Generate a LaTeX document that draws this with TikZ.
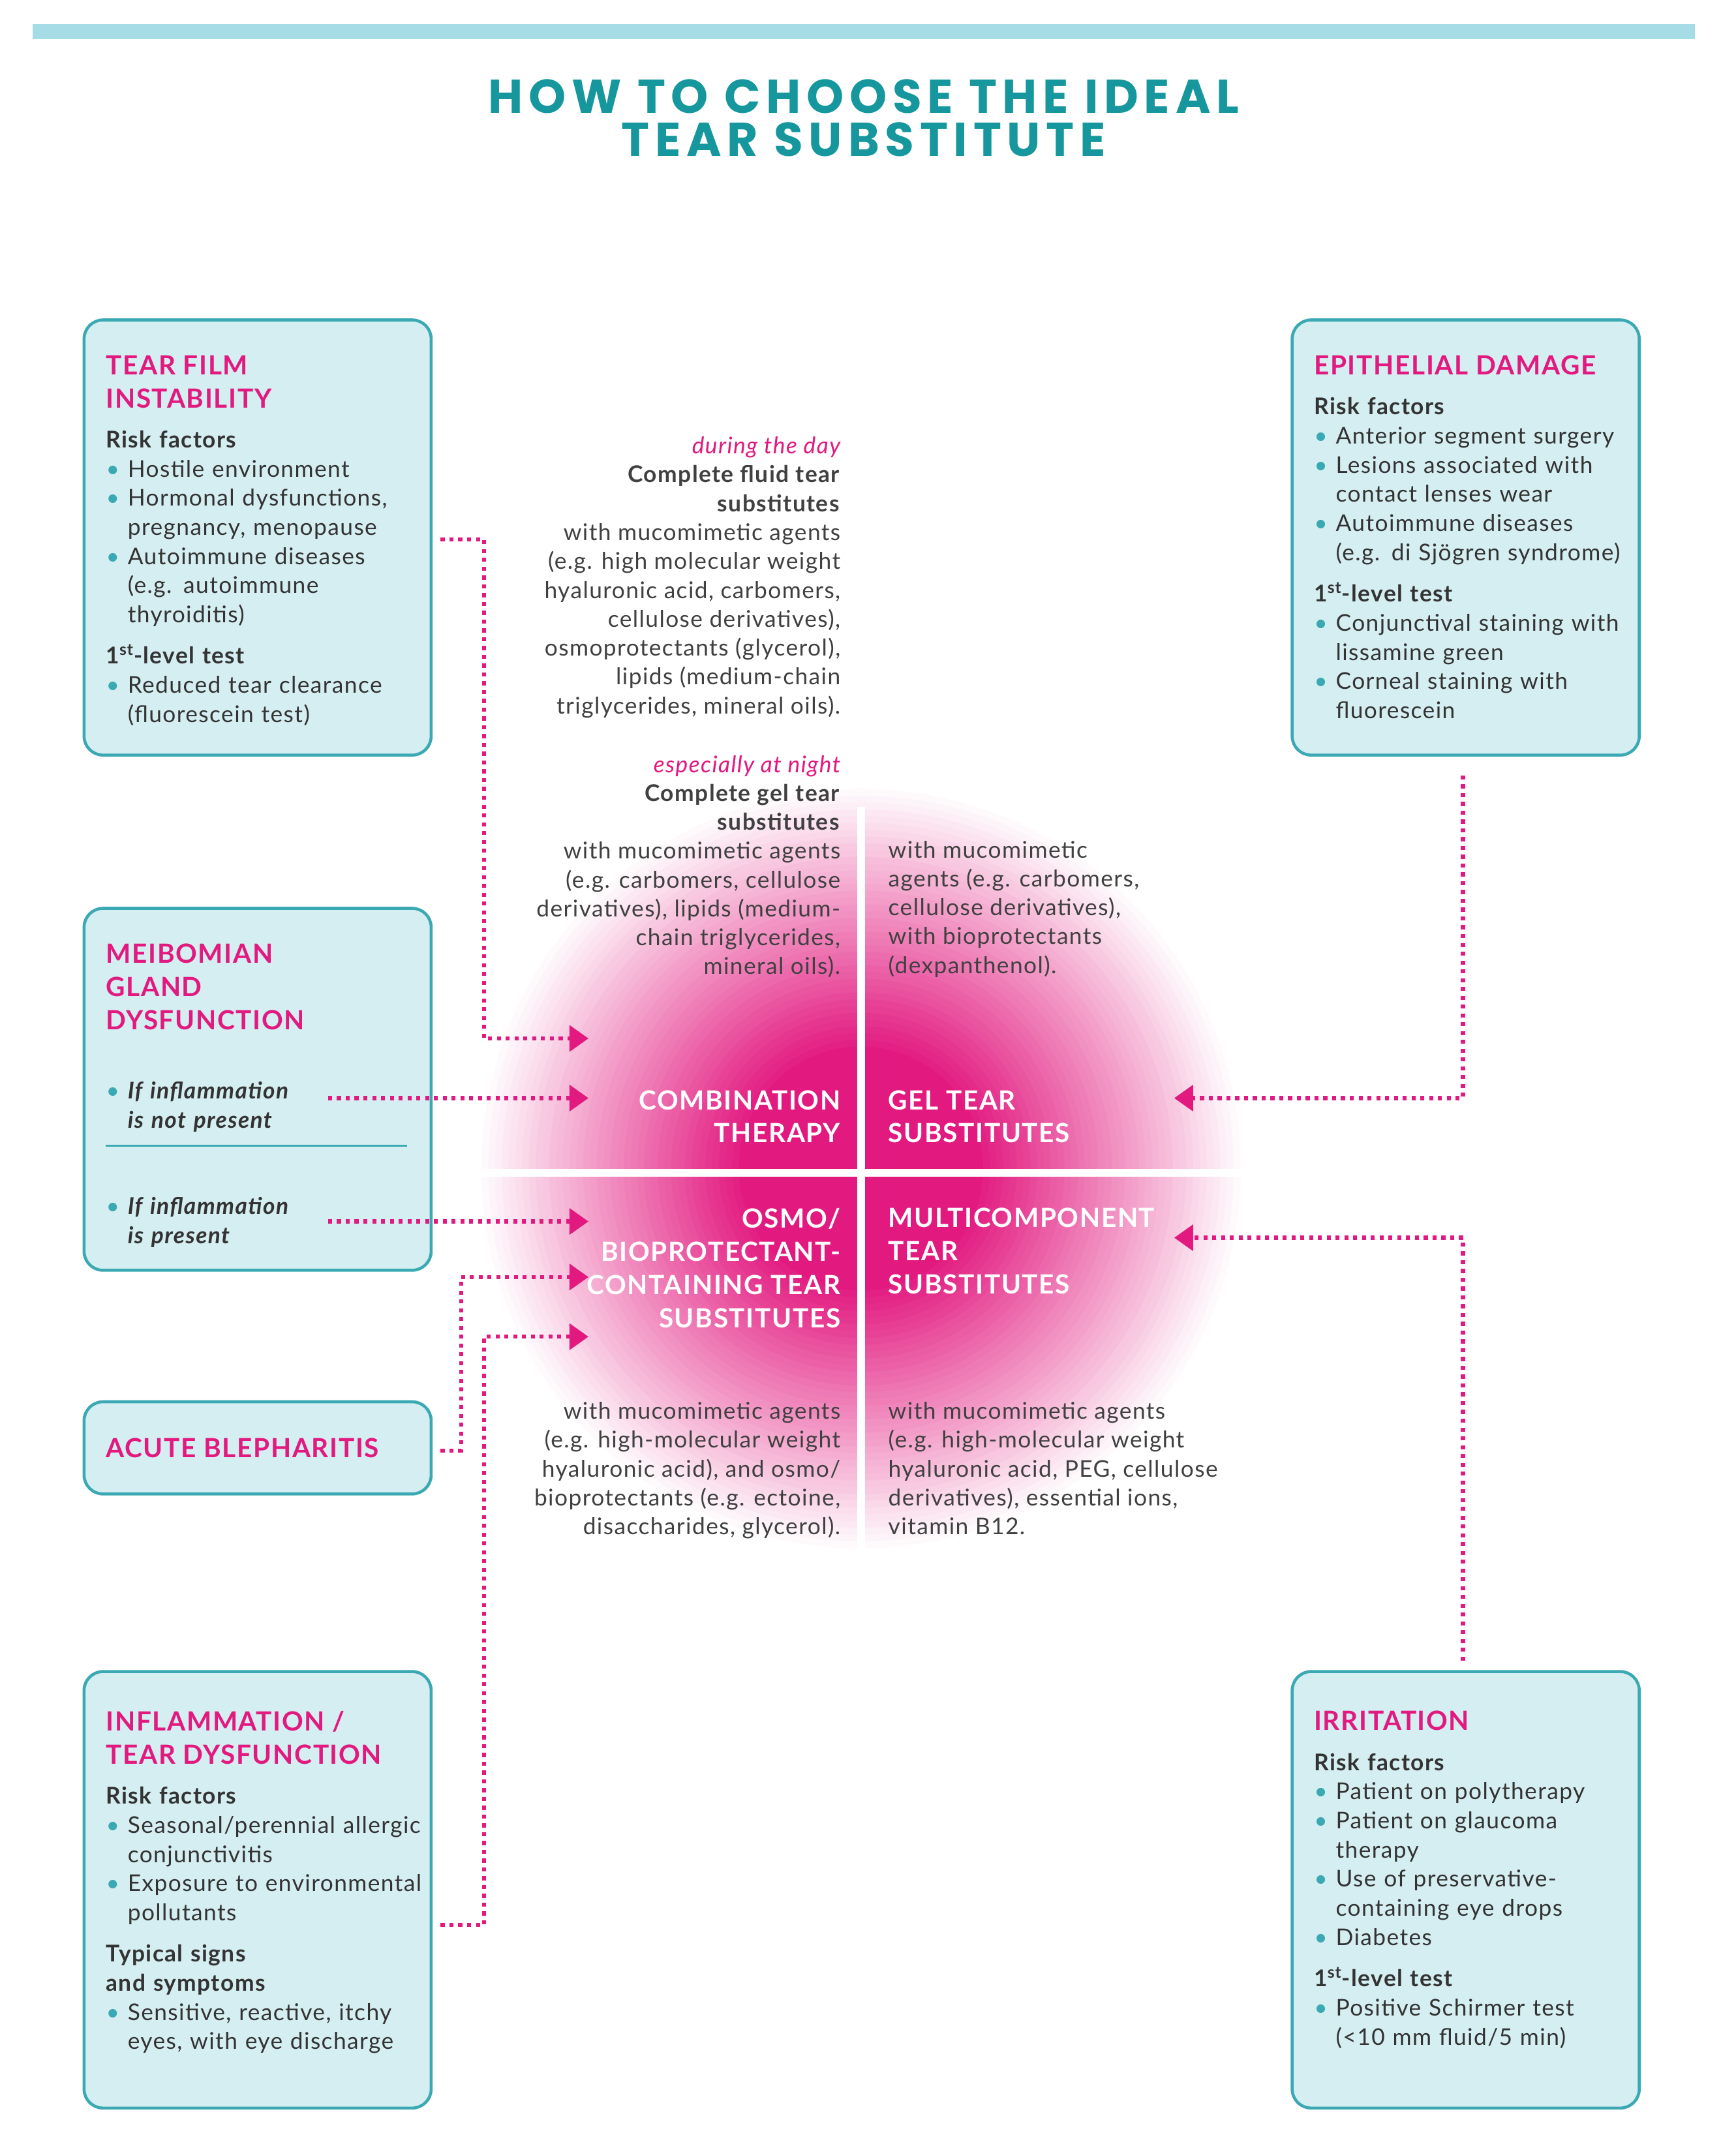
\documentclass[tikz,border=0pt]{standalone}
\usepackage{fontspec}
\setmainfont[LetterSpace=4]{Lato}
\newfontfamily\titlefont[LetterSpace=12]{Poppins}
\usetikzlibrary{arrows.meta}
\definecolor{tealc}{HTML}{3BA9B3}
\definecolor{boxfill}{HTML}{D5EEF1}
\definecolor{pinkc}{HTML}{E2197F}
\definecolor{titlec}{HTML}{16979D}
\definecolor{barc}{HTML}{A6DCE5}
\newcommand\bul[1]{\par\hangindent=16pt\hangafter=1\noindent\hbox to 16pt{\textcolor{tealc}{\textbullet}\hfil}#1}
\newcommand\hd[1]{\par\vspace{9pt}\noindent\textbf{#1}}
\newcommand\ttl[1]{{\fontsize{19.5}{24.5}\selectfont\bfseries\color{pinkc}#1\par}\vspace{8pt}}
\tikzset{
 box/.style={draw=tealc, line width=2.2pt, fill=boxfill, rounded corners=14pt},
 btxt/.style={anchor=north west, inner sep=0pt, text width=240pt, font=\fontsize{17}{21.5}\selectfont, text=black!80},
 ctxt/.style={inner sep=0pt, font=\fontsize{17}{21.3}\selectfont, text=black!75},
 qlab/.style={inner sep=0pt, font=\fontsize{19.5}{24.5}\selectfont\bfseries, text=white},
 con/.style={pinkc, line width=3pt, dash pattern=on 3pt off 3.5pt},
 arr/.style={con, -{Triangle[length=14pt,width=19pt]}},
}
\begin{document}
\begin{tikzpicture}[x=1pt,y=-1pt]
\useasboundingbox (0,0) rectangle (1280,1583);
\fill[white] (0,0) rectangle (1280,1583);
\fill[barc] (24,18) rectangle (1250,29);
\node[font=\titlefont\fontsize{35}{35}\selectfont\bfseries, text=titlec, align=center, inner sep=0pt] (title) at (637,87) {HOW TO CHOOSE THE IDEAL\\[-3pt]TEAR SUBSTITUTE};
% glow
\foreach \i in {0,...,56}{
  \pgfmathsetmacro\r{285-5*\i}
  \pgfmathtruncatemacro\p{min(100,(285-\r)/1.95)}
  \fill[pinkc!\p!white] (635,862) circle (\r);
}
\fill[white] (632,595) rectangle (638,1150);
\fill[white] (355,862) rectangle (915,868);
% boxes
\draw[box] (62,236) rectangle (318,557);
\draw[box] (62,670) rectangle (318,937);
\draw[box] (62,1034) rectangle (318,1102);
\draw[box] (62,1233) rectangle (318,1555);
\draw[box] (953,236) rectangle (1209,557);
\draw[box] (953,1233) rectangle (1209,1555);
\node[btxt] (b1) at (78,262) {\ttl{TEAR FILM\newline INSTABILITY}\noindent\textbf{Risk factors}\bul{Hostile environment}\bul{Hormonal dysfunctions,\newline pregnancy, menopause}\bul{Autoimmune diseases\newline (e.g. autoimmune\newline thyroiditis)}\hd{1\textsuperscript{st}-level test}\bul{Reduced tear clearance\newline (fluorescein test)}\par};
\node[btxt] (b2) at (78,696) {\ttl{MEIBOMIAN\newline GLAND\newline DYSFUNCTION}};
\node[btxt] (mgd1) at (78,789) {\bul{\textbf{\itshape If inflammation\newline is not present}}\par};
\draw[tealc, line width=1.5pt] (78,845) -- (300,845);
\node[btxt] (mgd2) at (78,874) {\bul{\textbf{\itshape If inflammation\newline is present}}\par};
\node[btxt, anchor=west] (b3) at (78,1068) {{\fontsize{19.5}{24.5}\selectfont\bfseries\color{pinkc}ACUTE BLEPHARITIS}};
\node[btxt] (b4) at (78,1262) {\ttl{INFLAMMATION /\newline TEAR DYSFUNCTION}\noindent\textbf{Risk factors}\bul{Seasonal/perennial allergic\newline conjunctivitis}\bul{Exposure to environmental\newline pollutants}\hd{Typical signs\newline and symptoms}\bul{Sensitive, reactive, itchy\newline eyes, with eye discharge}\par};
\node[btxt] (b5) at (969,262) {\ttl{EPITHELIAL DAMAGE}\noindent\textbf{Risk factors}\bul{Anterior segment surgery}\bul{Lesions associated with\newline contact lenses wear}\bul{Autoimmune diseases\newline (e.g. di Sjögren syndrome)}\hd{1\textsuperscript{st}-level test}\bul{Conjunctival staining with\newline lissamine green}\bul{Corneal staining with\newline fluorescein}\par};
\node[btxt] (b6) at (969,1262) {\ttl{IRRITATION}\noindent\textbf{Risk factors}\bul{Patient on polytherapy}\bul{Patient on glaucoma\newline therapy}\bul{Use of preservative-\newline containing eye drops}\bul{Diabetes}\hd{1\textsuperscript{st}-level test}\bul{Positive Schirmer test\newline (<10 mm fluid/5 min)}\par};
% centre texts
\node[ctxt, anchor=north east, align=right] (t1) at (620,322) {\textcolor{pinkc}{\itshape during the day}\\\textbf{Complete fluid tear}\\\textbf{substitutes}\\with mucomimetic agents\\(e.g. high  molecular weight\\hyaluronic acid, carbomers,\\cellulose derivatives),\\osmoprotectants (glycerol),\\lipids (medium-chain\\triglycerides, mineral oils).};
\node[ctxt, anchor=north east, align=right] (t2) at (620,557) {\textcolor{pinkc}{\itshape especially at night}\\\textbf{Complete gel tear}\\\textbf{substitutes}\\with mucomimetic agents\\(e.g. carbomers, cellulose\\derivatives), lipids (medium-\\chain triglycerides,\\mineral oils).};
\node[ctxt, anchor=north west, align=left] (t3) at (655,620) {with mucomimetic\\agents (e.g. carbomers,\\cellulose derivatives),\\with bioprotectants\\(dexpanthenol).};
\node[ctxt, anchor=north east, align=right] (t4) at (620,1034) {with mucomimetic agents\\(e.g. high-molecular weight\\hyaluronic acid), and osmo/\\bioprotectants (e.g. ectoine,\\disaccharides, glycerol).};
\node[ctxt, anchor=north west, align=left] (t5) at (655,1034) {with mucomimetic agents\\(e.g. high-molecular weight\\hyaluronic acid, PEG, cellulose\\derivatives), essential ions,\\vitamin B12.};
% quadrant labels
\node[qlab, anchor=north east, align=right] (q1) at (620,804) {COMBINATION\\THERAPY};
\node[qlab, anchor=north west, align=left] (q2) at (655,804) {GEL TEAR\\SUBSTITUTES};
\node[qlab, anchor=north east, align=right] (q3) at (620,891) {OSMO/\\BIOPROTECTANT-\\CONTAINING TEAR\\SUBSTITUTES};
\node[qlab, anchor=north west, align=left] (q4) at (655,891) {MULTICOMPONENT\\TEAR\\SUBSTITUTES};
% connector anchors
\coordinate (a1) at (434,766);
\coordinate (a2) at (434,810);
\coordinate (a3) at (434,901);
\coordinate (a4) at (434,942);
\coordinate (a5) at (434,986);
\coordinate (a6) at (866,810);
\coordinate (a7) at (866,913);
\coordinate (s1) at (325,398);
\coordinate (s2) at (242,810);
\coordinate (s3) at (242,901);
\coordinate (s4) at (325,1070);
\coordinate (s5) at (325,1420);
\coordinate (s6) at (1079,572);
\coordinate (s7) at (1079,1225);
\draw[arr] (s1) -| (357,766) -- (a1);
\draw[arr] (s2) -- (a2);
\draw[arr] (s3) -- (a3);
\draw[arr] (s4) -| (340,942) -- (a4);
\draw[arr] (s5) -| (357,986) -- (a5);
\draw[arr] (s6) |- (a6);
\draw[arr] (s7) |- (a7);
\end{tikzpicture}
\end{document}
